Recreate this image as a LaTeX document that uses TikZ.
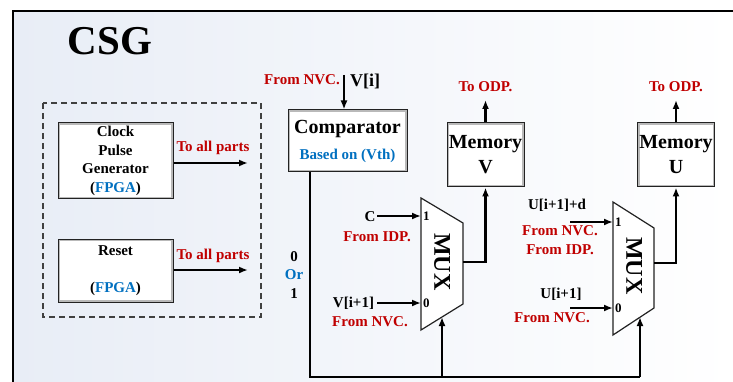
\documentclass[tikz,border=0pt]{standalone}
\usepackage{fontspec}
\setmainfont{Liberation Serif}
\usetikzlibrary{positioning,arrows.meta,calc}
\definecolor{Crimson}{HTML}{C00000}
\definecolor{Azure}{HTML}{0070C0}
\definecolor{Panel}{HTML}{E8EDF6}
\definecolor{Edge}{HTML}{222222}

\begin{document}
\begin{tikzpicture}[x=1pt, y=-1pt, every node/.style={font=\bfseries\fontsize{15}{18.6}\selectfont, inner sep=0pt}]
  \tikzstyle{block}=[draw=Edge, fill=white, line width=1pt, align=center,
    path picture={\draw[gray!55, line width=4pt] (path picture bounding box.south west) rectangle (path picture bounding box.north east);}]
  \tikzstyle{wire}=[line width=2.2pt]
  \tikzstyle{arrow}=[wire, -{Latex[length=9pt, width=7pt]}]
  \tikzstyle{redlabel}=[text=Crimson]
  \tikzstyle{port}=[font=\bfseries\fontsize{13}{15}\selectfont, anchor=west]
  \tikzstyle{mux}=[draw=Edge, fill=white, line width=1.2pt]

  \useasboundingbox (0,0) rectangle (733,382);
  \shade[left color=Panel, right color=white] (13,11) rectangle (733,382);
  \draw[line width=2.4pt] (13,382) -- (13,11) -- (733,11);

  \node[font=\bfseries\fontsize{41}{41}\selectfont] (title) at (110,41) {CSG};

  % FPGA side
  \draw[draw=black!75, line width=1.1pt, dash pattern=on 6pt off 4pt] (43,103) rectangle (261,317);
  \node[block, minimum width=115pt, minimum height=76pt] (clock) at (115.5,161) {Clock\\Pulse\\Generator\\(\textcolor{Azure}{FPGA})};
  \node[block, minimum width=115pt, minimum height=63pt] (reset) at (115.5,270.5) {Reset\\[18.6pt](\textcolor{Azure}{FPGA})};
  \coordinate (clock-out) at (248,163);
  \coordinate (reset-out) at (248,270);
  \draw[arrow] (clock.east |- clock-out) -- (clock-out);
  \draw[arrow] (reset.east |- reset-out) -- (reset-out);
  \node[redlabel] at (213,148) {To all parts};
  \node[redlabel] at (213,256) {To all parts};

  % comparator
  \node[block, minimum width=119pt, minimum height=62pt, font=\bfseries\fontsize{20}{24}\selectfont] (comp) at (347.5,141) {Comparator\\[2pt]{\fontsize{15}{18}\selectfont\color{Azure}Based on (Vth)}};
  \coordinate (vi) at (344,75);
  \draw[arrow] (vi) -- (vi |- comp.north);
  \node[font=\bfseries\fontsize{18}{18}\selectfont, anchor=west] (vi-label) at (350,81) {V[i]};
  \node[redlabel] (vi-src) at (302,80) {From NVC.};
  \node[align=center] (sel-val) at (294,275) {0\\\textcolor{Azure}{Or}\\1};

  % multiplexers
  \coordinate (muxv-in1) at (421,216);
  \coordinate (muxv-in0) at (421,303);
  \coordinate (muxv-out) at (463,262);
  \coordinate (muxv-sel) at (442,317);
  \draw[mux] (421,198) -- (463,223) -- (463,304) -- (421,330) -- cycle;
  \node[rotate=-90, font=\bfseries\fontsize{24}{24}\selectfont] (muxv) at (442,262) {MUX};
  \node[port] at (423,216) {1};
  \node[port] at (423,303) {0};

  \coordinate (muxu-in1) at (613,222);
  \coordinate (muxu-in0) at (613,308);
  \coordinate (muxu-out) at (654,263);
  \coordinate (muxu-sel) at (640,317);
  \draw[mux] (613,202) -- (654,228) -- (654,308) -- (613,335) -- cycle;
  \node[rotate=-90, font=\bfseries\fontsize{24}{24}\selectfont] (muxu) at (634,266) {MUX};
  \node[port] at (615,222) {1};
  \node[port] at (615,308) {0};

  % mux V inputs
  \coordinate (muxv-src1) at (377,216);
  \coordinate (muxv-src0) at (377,303);
  \node (c-in) at (370,217) {C};
  \node[redlabel] at (377,237) {From IDP.};
  \node (v-next) at (353.5,303) {V[i+1]};
  \node[redlabel] at (370,322) {From NVC.};
  \draw[arrow] (muxv-src1) -- (muxv-in1);
  \draw[arrow] (muxv-src0) -- (muxv-in0);

  % mux U inputs
  \coordinate (muxu-src1) at (570,222);
  \coordinate (muxu-src0) at (570,308);
  \node (u-next-d) at (557,205) {U[i+1]+d};
  \node[redlabel, align=center] at (560,240) {From NVC.\\From IDP.};
  \node (u-next) at (561,294) {U[i+1]};
  \node[redlabel] at (552,318) {From NVC.};
  \draw[arrow] (muxu-src1) -- (muxu-in1);
  \draw[arrow] (muxu-src0) -- (muxu-in0);

  % memories
  \tikzstyle{memory}=[block, minimum width=77pt, minimum height=64pt, font=\bfseries\fontsize{20}{25}\selectfont]
  \node[memory] (memv) at (485.5,155) {Memory\\V};
  \node[memory] (memu) at (676,155) {Memory\\U};
  \coordinate (odp-v) at (485.5,100);
  \coordinate (odp-u) at (676,100);
  \draw[arrow] (memv.north) -- (odp-v);
  \draw[arrow] (memu.north) -- (odp-u);
  \node[redlabel, above=8pt of odp-v] {To ODP.};
  \node[redlabel, above=8pt of odp-u] {To ODP.};
  \draw[arrow] (muxv-out) -| (memv.south);
  \draw[arrow] (muxu-out) -| (memu.south);

  % select line
  \coordinate (sel-l) at (310,377);
  \coordinate (sel-m) at (442,377);
  \coordinate (sel-r) at (640,377);
  \draw[wire] (comp.south -| sel-l) -- (sel-l) -- (sel-r);
  \draw[arrow] (sel-m) -- (muxv-sel);
  \draw[arrow] (sel-r) -- (muxu-sel);
\end{tikzpicture}
\end{document}
